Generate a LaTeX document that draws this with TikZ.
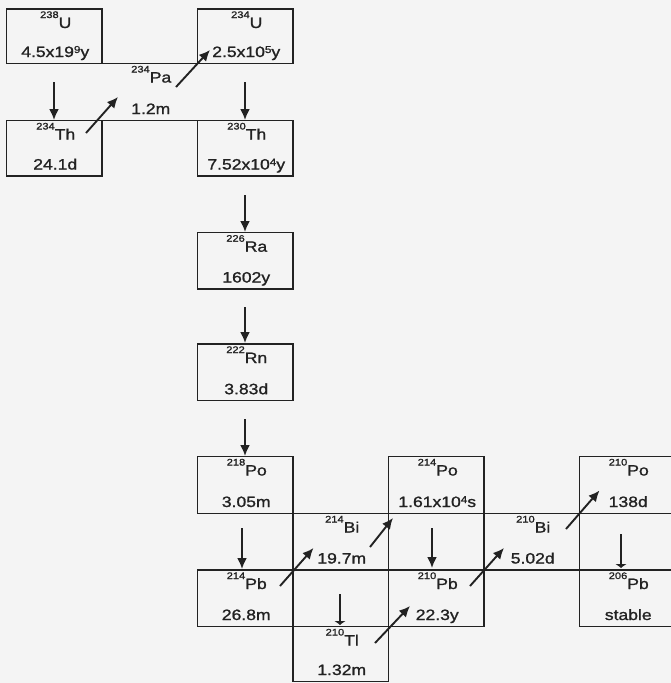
\documentclass[tikz,border=0pt]{standalone}
\usepackage{fontspec}
\setmainfont{Liberation Sans}[FakeStretch=1.17,FakeBold=1.2]
\usetikzlibrary{arrows.meta,calc}
\definecolor{ink}{HTML}{222222}
\definecolor{paper}{HTML}{F4F4F4}
\newcommand\iso[2]{\raisebox{10pt}{\fontsize{9.5}{10}\selectfont #1}#2}
\newcommand\ex[1]{\raisebox{4pt}{\fontsize{10}{10}\selectfont #1}}
\newcommand\isobox[3]{%
  \node[lab] (#1-n) at ($(#1.north)+(1.5,19)$) {#2};
  \node[lab] (#1-t) at ($(#1.south)+(1,-6.5)$) {#3};}
\begin{document}
\begin{tikzpicture}[x=1pt,y=-1pt,
  cell/.style={draw=ink, line width=1.5pt, anchor=north west, inner sep=0pt, outer sep=0pt, minimum width=95.5pt},
  open/.style={anchor=north west, inner sep=0pt, outer sep=0pt, minimum width=95.5pt},
  lab/.style={anchor=base, inner sep=0pt, text=ink, font=\fontsize{15}{18}\selectfont},
  arr/.style={draw=ink, line width=1.9pt, -{Latex[length=11pt,width=10pt]}},
  flat/.style={draw=ink, line width=1.6pt, -{Latex[length=4pt,width=12pt]}},
  edge/.style={draw=ink, line width=1.5pt}]
\fill[paper] (0,0) rectangle (671,683);
\useasboundingbox (0,0) rectangle (671,683);
% boxes
\node[cell, minimum height=54.5pt] (u238) at (6.5,9) {};
\node[cell, minimum height=55.5pt] (th234) at (6.5,120.5) {};
\node[open, minimum height=57pt] (pa234) at (102,63.5) {};
\node[cell, minimum height=54.5pt] (u234) at (197.5,9) {};
\node[cell, minimum height=55.5pt] (th230) at (197.5,120.5) {};
\node[cell, minimum height=56.3pt] (ra226) at (197.5,232.7) {};
\node[cell, minimum height=56.7pt] (rn222) at (197.5,344) {};
\node[cell, minimum height=57pt] (po218) at (197.5,456.5) {};
\node[cell, minimum height=56.5pt] (pb214) at (197.5,570) {};
\node[cell, minimum height=56.5pt] (bi214) at (293,513.5) {};
\node[cell, minimum height=55pt] (tl210) at (293,626.5) {};
\node[cell, minimum height=57pt] (po214) at (388.5,456.5) {};
\node[cell, minimum height=56.5pt] (pb210) at (388.5,570) {};
\node[cell, minimum height=56.5pt] (bi210) at (484,513.5) {};
\node[cell, minimum height=57pt] (po210) at (579.5,456.5) {};
\node[cell, minimum height=56.5pt] (pb206) at (579.5,570) {};
\draw[edge] (pa234.north west) -- (pa234.north east);
\draw[edge] (pa234.south west) -- (pa234.south east);
% texts
\isobox{u238}{\iso{238}{U}}{4.5x19\ex{9}y}
\isobox{th234}{\iso{234}{Th}}{24.1d}
\isobox{pa234}{\iso{234}{Pa}}{1.2m}
\isobox{u234}{\iso{234}{U}}{2.5x10\ex{5}y}
\isobox{th230}{\iso{230}{Th}}{7.52x10\ex{4}y}
\isobox{ra226}{\iso{226}{Ra}}{1602y}
\isobox{rn222}{\iso{222}{Rn}}{3.83d}
\isobox{po218}{\iso{218}{Po}}{3.05m}
\isobox{pb214}{\iso{214}{Pb}}{26.8m}
\isobox{bi214}{\iso{214}{Bi}}{19.7m}
\isobox{tl210}{\iso{210}{Tl}}{1.32m}
\isobox{po214}{\iso{214}{Po}}{1.61x10\ex{4}s}
\isobox{pb210}{\iso{210}{Pb}}{22.3y}
\isobox{bi210}{\iso{210}{Bi}}{5.02d}
\isobox{po210}{\iso{210}{Po}}{138d}
\isobox{pb206}{\iso{206}{Pb}}{stable}
% arrow end points
\coordinate (a1s) at (54,82);   \coordinate (a1e) at (54,120);
\coordinate (a2s) at (86,133);  \coordinate (a2e) at (118,97);
\coordinate (a3s) at (176,87);  \coordinate (a3e) at (210,50);
\coordinate (a4s) at (245,82);  \coordinate (a4e) at (245,120);
\coordinate (a5s) at (245,195); \coordinate (a5e) at (245,232);
\coordinate (a6s) at (245,307); \coordinate (a6e) at (245,343);
\coordinate (a7s) at (245,419); \coordinate (a7e) at (245,456);
\coordinate (a8s) at (242,528); \coordinate (a8e) at (242,569);
\coordinate (a9s) at (280,586); \coordinate (a9e) at (313.5,548);
\coordinate (a10s) at (370,547); \coordinate (a10e) at (393,518);
\coordinate (a11s) at (432,528); \coordinate (a11e) at (432,568);
\coordinate (a12s) at (340,594); \coordinate (a12e) at (340,625);
\coordinate (a13s) at (375,643); \coordinate (a13e) at (410,606);
\coordinate (a14s) at (470,586); \coordinate (a14e) at (504,548);
\coordinate (a15s) at (566,529); \coordinate (a15e) at (599.5,490.5);
\coordinate (a16s) at (621,534); \coordinate (a16e) at (621,568);
% arrows
\draw[arr] (a1s) -- (a1e);
\draw[arr] (a2s) -- (a2e);
\draw[arr] (a3s) -- (a3e);
\draw[arr] (a4s) -- (a4e);
\draw[arr] (a5s) -- (a5e);
\draw[arr] (a6s) -- (a6e);
\draw[arr] (a7s) -- (a7e);
\draw[arr] (a8s) -- (a8e);
\draw[arr] (a9s) -- (a9e);
\draw[arr] (a10s) -- (a10e);
\draw[arr] (a11s) -- (a11e);
\draw[flat] (a12s) -- (a12e);
\draw[arr] (a13s) -- (a13e);
\draw[arr] (a14s) -- (a14e);
\draw[arr] (a15s) -- (a15e);
\draw[flat] (a16s) -- (a16e);
\end{tikzpicture}
\end{document}
